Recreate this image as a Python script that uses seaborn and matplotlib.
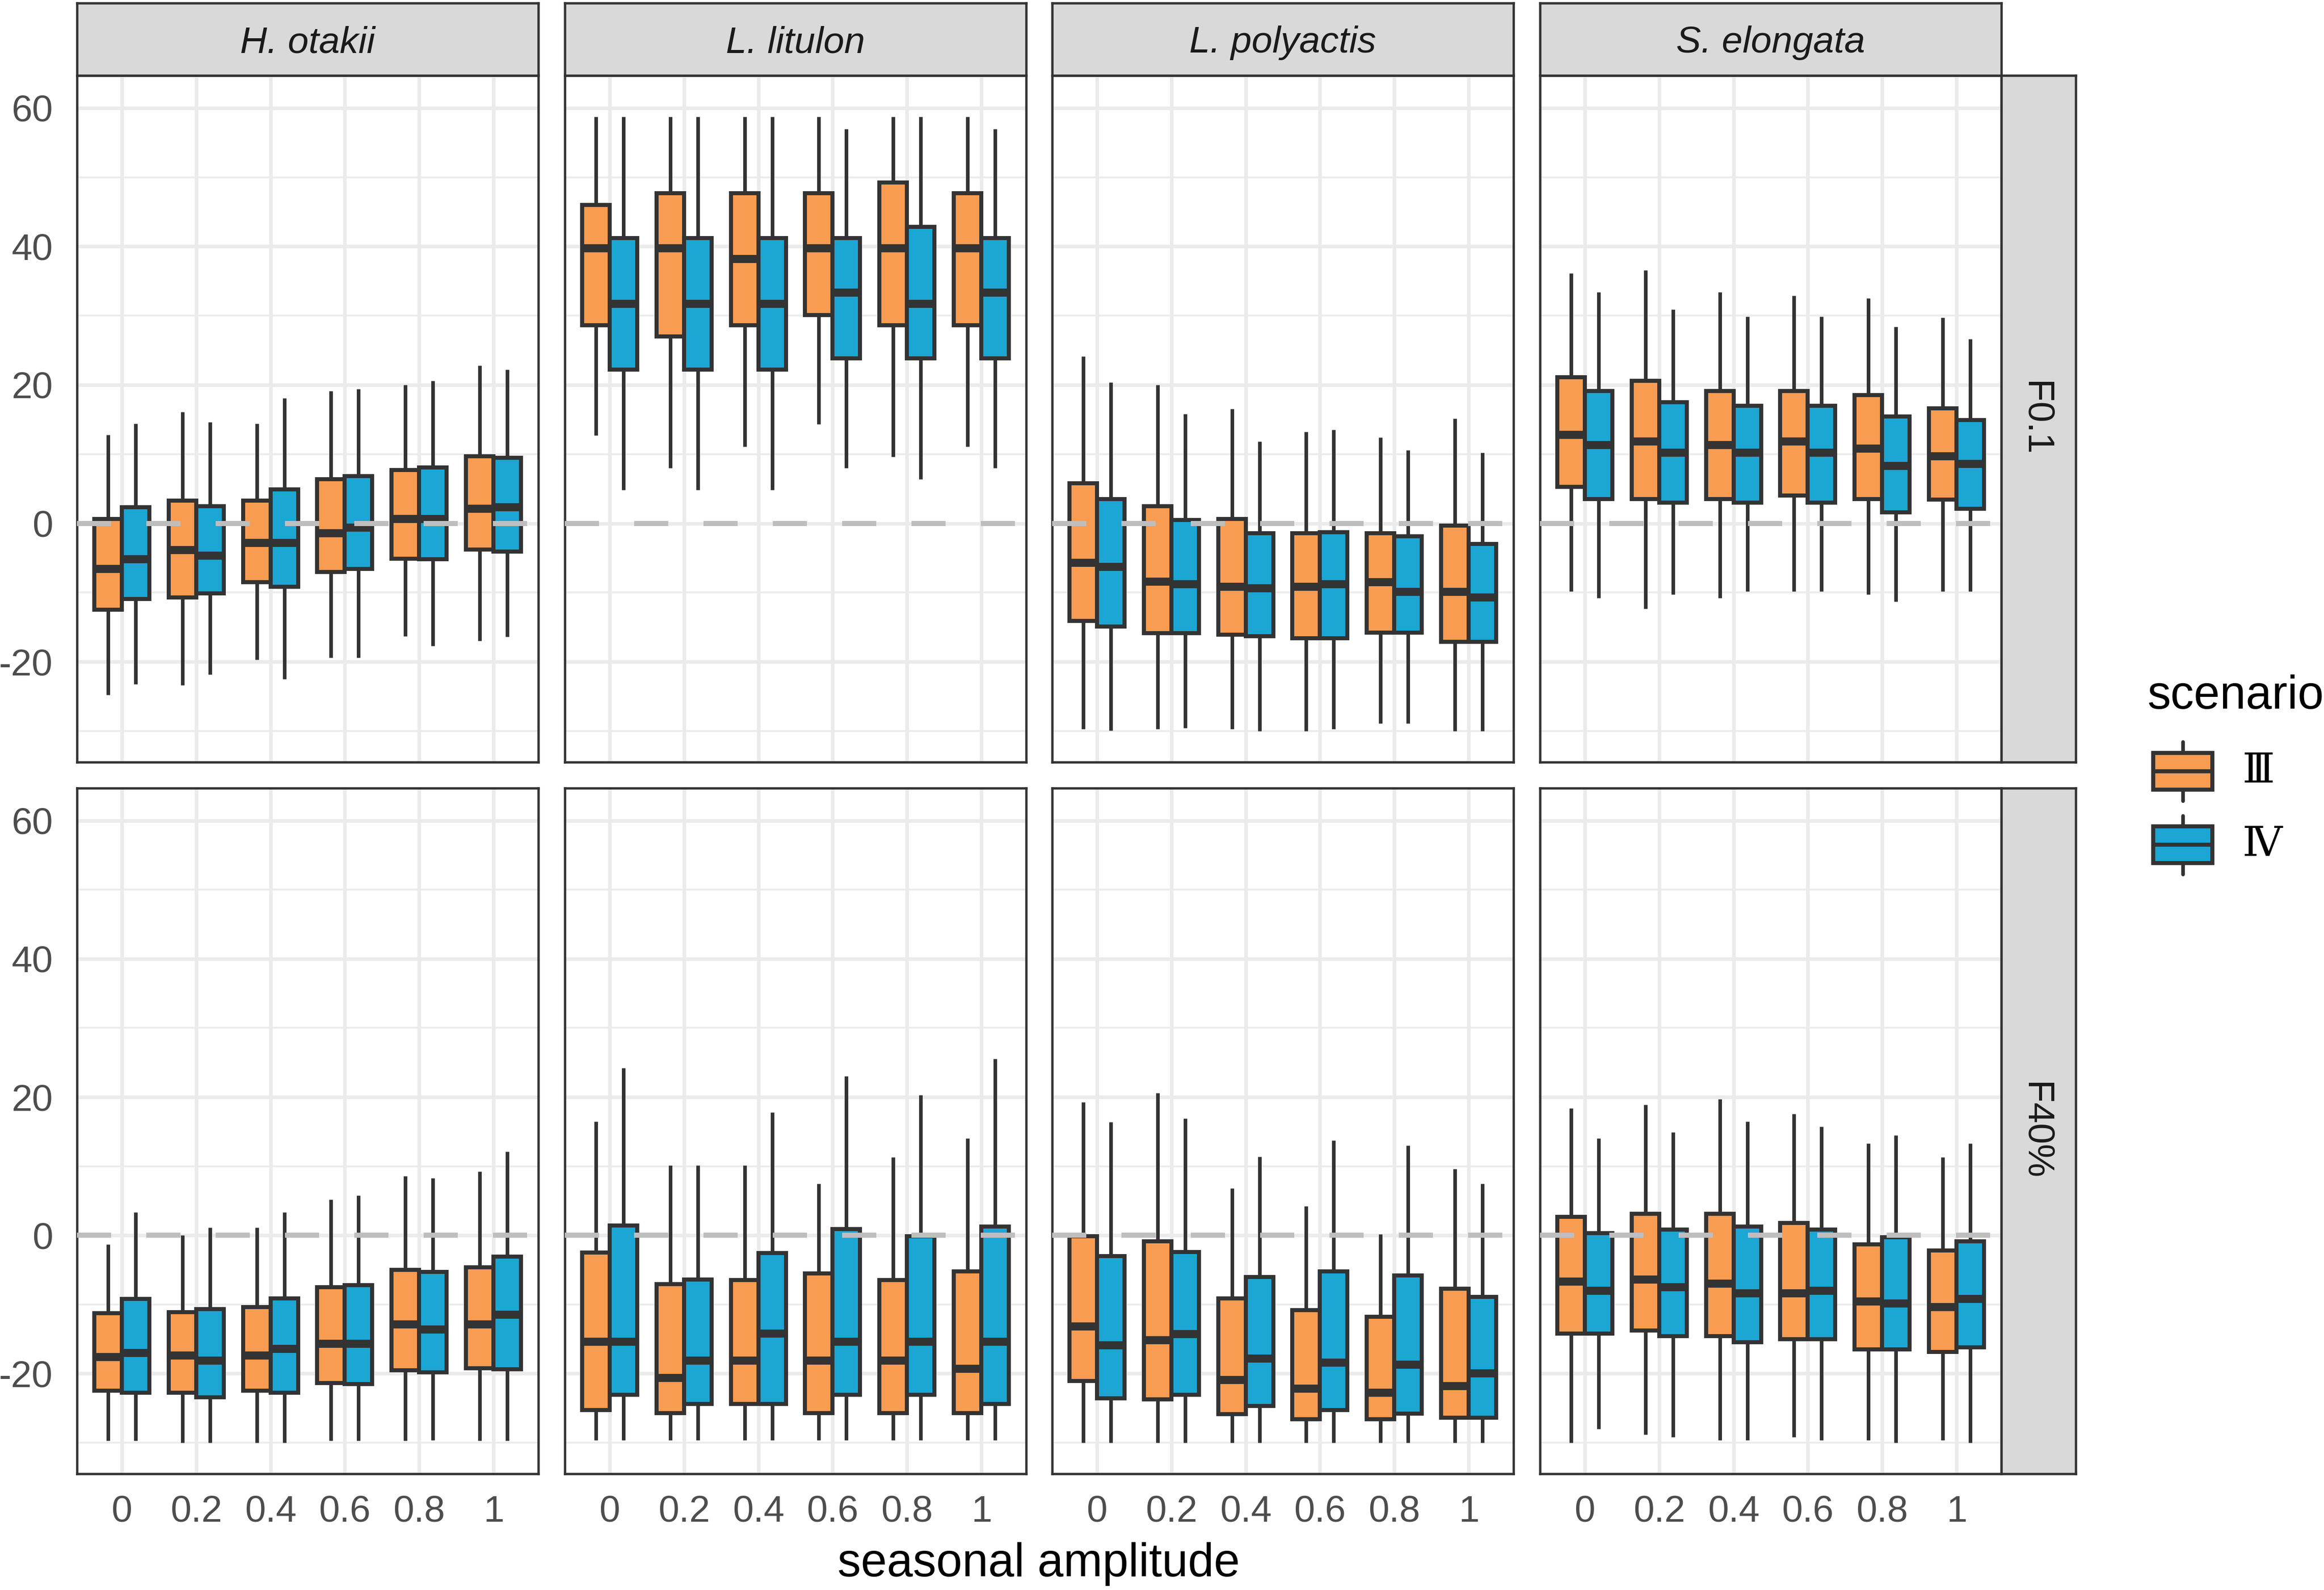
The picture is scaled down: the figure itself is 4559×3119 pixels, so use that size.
import numpy as np
import pandas as pd
import matplotlib
matplotlib.use("Agg")
import matplotlib.pyplot as plt
from matplotlib.patches import Rectangle, Patch
from matplotlib.lines import Line2D
from matplotlib.legend_handler import HandlerBase
from matplotlib.font_manager import FontProperties
import seaborn as sns

# ---------------- data ----------------
species = ["H. otakii", "L. litulon", "L. polyactis", "S. elongata"]
f_levels = ["F0.1", "F40%"]
amplitudes = ["0", "0.2", "0.4", "0.6", "0.8", "1"]
scenarios = ["Ⅲ", "Ⅳ"]
scenario_colors = ["#F89C52", "#1CA6D3"]

# each tuple: (lower whisker, Q1, median, Q3, upper whisker), one per amplitude
ho_f01_iii = [(-24.8, -12.5, -6.6, 0.6, 12.8), (-23.4, -10.7, -3.9, 3.3, 16.1), (-19.7, -8.5, -2.8, 3.3, 14.4),
              (-19.4, -7.0, -1.4, 6.4, 19.1), (-16.3, -5.1, 0.6, 7.7, 20.0), (-17.0, -3.8, 2.1, 9.7, 22.8)]
ho_f01_iv = [(-23.2, -10.9, -5.2, 2.3, 14.4), (-21.8, -10.1, -4.7, 2.5, 14.6), (-22.5, -9.2, -2.8, 4.9, 18.1),
             (-19.4, -6.6, -0.6, 6.8, 19.4), (-17.7, -5.2, 0.6, 8.1, 20.6), (-16.4, -4.1, 2.3, 9.5, 22.2)]
ll_f01_iii = [(12.7, 28.6, 39.7, 46.0, 58.7), (8.0, 27.0, 39.7, 47.7, 58.7), (11.1, 28.6, 38.2, 47.7, 58.7),
              (14.3, 30.1, 39.7, 47.7, 58.7), (9.6, 28.6, 39.7, 49.2, 58.7), (11.1, 28.6, 39.7, 47.7, 58.7)]
ll_f01_iv = [(4.8, 22.2, 31.7, 41.2, 58.7), (4.8, 22.2, 31.7, 41.2, 58.7), (4.8, 22.2, 31.7, 41.2, 58.7),
             (8.0, 23.8, 33.3, 41.2, 57.0), (6.4, 23.8, 31.7, 42.8, 58.7), (8.0, 23.8, 33.3, 41.2, 57.0)]
lp_f01_iii = [(-29.7, -14.1, -5.7, 5.8, 24.1), (-29.7, -15.9, -8.4, 2.5, 20.0), (-29.7, -16.1, -9.2, 0.6, 16.5),
              (-30.0, -16.6, -9.2, -1.4, 13.2), (-28.9, -15.8, -8.5, -1.4, 12.4), (-30.0, -17.1, -9.9, -0.3, 15.1)]
lp_f01_iv = [(-29.9, -14.9, -6.3, 3.5, 20.4), (-29.6, -15.9, -8.8, 0.5, 15.8), (-30.0, -16.3, -9.4, -1.4, 11.8),
             (-29.7, -16.6, -8.8, -1.3, 13.5), (-28.9, -15.8, -9.9, -1.9, 10.6), (-30.0, -17.1, -10.7, -3.0, 10.2)]
se_f01_iii = [(-9.8, 5.3, 12.8, 21.1, 36.1), (-12.3, 3.5, 11.8, 20.6, 36.6), (-10.8, 3.5, 11.3, 19.1, 33.4),
              (-9.8, 4.0, 11.8, 19.1, 32.9), (-10.3, 3.5, 10.8, 18.5, 32.5), (-9.8, 3.4, 9.7, 16.6, 29.7)]
se_f01_iv = [(-10.8, 3.5, 11.3, 19.1, 33.4), (-10.3, 3.0, 10.2, 17.5, 30.9), (-9.8, 3.0, 10.2, 17.0, 29.9),
             (-9.8, 3.0, 10.2, 17.0, 29.9), (-11.3, 1.6, 8.3, 15.4, 28.4), (-9.8, 2.1, 8.6, 14.9, 26.6)]

ho_f40_iii = [(-29.7, -22.5, -17.6, -11.3, -1.3), (-30.0, -22.8, -17.4, -11.1, 0.0), (-30.0, -22.5, -17.4, -10.4, 1.1),
              (-29.7, -21.4, -15.7, -7.5, 5.2), (-29.7, -19.5, -12.9, -5.0, 8.6), (-29.7, -19.2, -12.9, -4.6, 9.2)]
ho_f40_iv = [(-29.7, -22.8, -17.0, -9.2, 3.3), (-30.0, -23.4, -18.1, -10.7, 1.1), (-30.0, -22.8, -16.4, -9.1, 3.3),
             (-29.7, -21.5, -15.7, -7.2, 5.8), (-29.6, -19.8, -13.6, -5.3, 8.3), (-29.7, -19.4, -11.5, -3.1, 12.1)]
ll_f40_iii = [(-29.6, -25.3, -15.4, -2.5, 16.5), (-29.6, -25.7, -20.6, -7.1, 10.1), (-29.6, -24.4, -18.1, -6.5, 10.1),
              (-29.6, -25.7, -18.1, -5.5, 7.5), (-29.6, -25.7, -18.1, -6.5, 11.3), (-29.6, -25.7, -19.3, -5.2, 14.0)]
ll_f40_iv = [(-29.6, -23.1, -15.4, 1.4, 24.2), (-29.6, -24.4, -18.1, -6.4, 10.1), (-29.6, -24.4, -14.2, -2.6, 17.8),
             (-29.6, -23.1, -15.4, 0.9, 23.0), (-29.6, -23.1, -15.4, -0.1, 20.3), (-29.6, -24.4, -15.4, 1.3, 25.5)]
lp_f40_iii = [(-30.0, -21.1, -13.2, -0.1, 19.3), (-30.0, -23.7, -15.2, -0.9, 20.6), (-30.0, -25.9, -20.9, -9.1, 6.8),
              (-30.0, -26.6, -22.2, -10.8, 4.2), (-30.0, -26.6, -22.8, -11.8, 0.2), (-30.0, -26.4, -21.8, -7.7, 9.6)]
lp_f40_iv = [(-30.0, -23.6, -15.9, -3.0, 16.4), (-30.0, -23.1, -14.3, -2.4, 16.9), (-30.0, -24.7, -17.8, -6.0, 11.4),
             (-30.0, -25.3, -18.4, -5.2, 13.7), (-30.0, -25.8, -18.7, -5.8, 13.0), (-30.0, -26.4, -20.0, -8.9, 7.5)]
se_f40_iii = [(-30.0, -14.2, -6.7, 2.7, 18.4), (-28.8, -13.8, -6.4, 3.1, 18.9), (-29.6, -14.6, -7.0, 3.1, 19.7),
              (-29.2, -15.0, -8.4, 1.8, 17.6), (-29.6, -16.5, -9.6, -1.3, 13.3), (-29.6, -16.9, -10.4, -2.2, 11.3)]
se_f40_iv = [(-28.0, -14.2, -8.0, 0.3, 14.0), (-29.2, -14.6, -7.5, 0.8, 14.9), (-29.6, -15.5, -8.4, 1.3, 16.5),
             (-29.6, -15.0, -8.0, 0.8, 15.7), (-30.0, -16.5, -9.9, -0.3, 14.5), (-30.0, -16.2, -9.2, -0.9, 13.3)]

y_major = [-20, 0, 20, 40, 60]
y_minor = [-30, -10, 10, 30, 50]
x_title = "seasonal amplitude"
legend_title = "scenario"

panel_series = {
    ("F0.1", "H. otakii"): (ho_f01_iii, ho_f01_iv),
    ("F0.1", "L. litulon"): (ll_f01_iii, ll_f01_iv),
    ("F0.1", "L. polyactis"): (lp_f01_iii, lp_f01_iv),
    ("F0.1", "S. elongata"): (se_f01_iii, se_f01_iv),
    ("F40%", "H. otakii"): (ho_f40_iii, ho_f40_iv),
    ("F40%", "L. litulon"): (ll_f40_iii, ll_f40_iv),
    ("F40%", "L. polyactis"): (lp_f40_iii, lp_f40_iv),
    ("F40%", "S. elongata"): (se_f40_iii, se_f40_iv),
}

rows = []
for (f, sp), series in panel_series.items():
    for sc, summ in zip(scenarios, series):
        for amp, five in zip(amplitudes, summ):
            for v in five:
                rows.append({"F": f, "species": sp, "amp": amp, "scenario": sc, "value": v})
df = pd.DataFrame(rows)

# ---------------- style ----------------
sns.set_style("white")
plt.rcParams["font.family"] = ["Liberation Sans", "DejaVu Sans"]
plt.rcParams["axes.unicode_minus"] = False

W, H = 4559, 3119
DPI = 300
fig = plt.figure(figsize=(W / DPI, H / DPI), dpi=DPI)
fig.patch.set_facecolor("white")


def rect(l, t, w, h):
    return [l / W, 1 - (t + h) / H, w / W, h / H]


col_left = [151, 1108, 2064, 3021]
col_w = 905
row_top = [148, 1546]
row_h = [1347, 1345]
DARK = "#333333"
GRID = "#EBEBEB"
STRIP = "#D9D9D9"
TICK_SIZE = 17.6
palette = dict(zip(scenarios, scenario_colors))

for r, f in enumerate(f_levels):
    for c, sp in enumerate(species):
        ax = fig.add_axes(rect(col_left[c], row_top[r], col_w, row_h[r]))
        sub = df[(df["F"] == f) & (df["species"] == sp)]
        sns.boxplot(data=sub, x="amp", y="value", hue="scenario", order=amplitudes,
                    hue_order=scenarios, palette=palette, saturation=1, width=0.74, gap=0,
                    whis=(0, 100), linecolor=DARK, linewidth=1.9, showcaps=False,
                    showfliers=False, legend=False,
                    medianprops={"linewidth": 3.8},
                    whiskerprops={"linewidth": 1.7},
                    ax=ax)
        ax.axhline(0, color="#BEBEBE", lw=2.4, ls=(0, (6.7, 6.9)), zorder=10,
                   dash_capstyle="butt")
        ax.set_xlim(-0.6, len(amplitudes) - 0.4)
        ax.set_ylim(-34.5, 64.7)
        ax.set_yticks(y_major)
        ax.set_yticks(y_minor, minor=True)
        ax.set_yticklabels([str(v) for v in y_major])
        ax.set_axisbelow(True)
        ax.grid(axis="y", which="major", color=GRID, lw=1.7)
        ax.grid(axis="y", which="minor", color=GRID, lw=0.85)
        ax.grid(axis="x", which="major", color=GRID, lw=1.7)
        ax.set_xlabel("")
        ax.set_ylabel("")
        for s in ax.spines.values():
            s.set_color(DARK)
            s.set_linewidth(1.1)
        ax.tick_params(axis="y", which="minor", length=0)
        ax.tick_params(axis="y", which="major", length=5.8 if c == 0 else 0, width=1.6,
                       color=DARK, labelleft=(c == 0), labelsize=TICK_SIZE,
                       labelcolor="#4D4D4D", pad=5.5)
        ax.tick_params(axis="x", which="major", length=5.5 if r == 1 else 0, width=1.6,
                       color=DARK, labelbottom=(r == 1), labelsize=TICK_SIZE,
                       labelcolor="#4D4D4D", pad=4.5)

# top strips
for c, sp in enumerate(species):
    sax = fig.add_axes(rect(col_left[c], 6, col_w, 142))
    sax.set_facecolor(STRIP)
    sax.set_xticks([])
    sax.set_yticks([])
    for s in sax.spines.values():
        s.set_color(DARK)
        s.set_linewidth(1.1)
    sax.text(0.5, 0.45, sp, ha="center", va="center", style="italic", size=TICK_SIZE,
             color="#1A1A1A", transform=sax.transAxes)

# right strips
for r, f in enumerate(f_levels):
    sax = fig.add_axes(rect(3926, row_top[r], 146, row_h[r]))
    sax.set_facecolor(STRIP)
    sax.set_xticks([])
    sax.set_yticks([])
    for s in sax.spines.values():
        s.set_color(DARK)
        s.set_linewidth(1.1)
    sax.text(0.45, 0.5, f, ha="center", va="center", rotation=-90, size=TICK_SIZE,
             color="#1A1A1A", transform=sax.transAxes)

# axis title
fig.text(2038 / W, 1 - 3068 / H, x_title, ha="center", va="center", size=22, color="black")

# legend
fig.text(4212 / W, 1 - 1390 / H, legend_title, ha="left", va="baseline", size=22, color="black")


class BoxKeyHandler(HandlerBase):
    def create_artists(self, legend, orig_handle, xdescent, ydescent, width, height,
                       fontsize, trans):
        x0, y0 = -xdescent, -ydescent
        fc = orig_handle.get_facecolor()
        box = Rectangle((x0 + 0.1 * width, y0 + 0.25 * height), 0.8 * width, 0.5 * height,
                        facecolor=fc, edgecolor=DARK, lw=1.9, transform=trans)
        med = Line2D([x0 + 0.1 * width, x0 + 0.9 * width], [y0 + 0.5 * height] * 2,
                     color=DARK, lw=1.9, transform=trans, solid_capstyle="butt")
        wl = Line2D([x0 + 0.5 * width] * 2, [y0 + 0.1 * height, y0 + 0.25 * height],
                    color=DARK, lw=1.7, transform=trans)
        wu = Line2D([x0 + 0.5 * width] * 2, [y0 + 0.75 * height, y0 + 0.9 * height],
                    color=DARK, lw=1.7, transform=trans)
        return [box, med, wl, wu]


handles = [Patch(facecolor=col) for col in scenario_colors]
leg_font = FontProperties(family=["Liberation Serif", "DejaVu Serif", "Noto Sans CJK SC"],
                          size=TICK_SIZE)
leg = fig.legend(handles, scenarios, handler_map={Patch: BoxKeyHandler()},
                 loc="upper left", bbox_to_anchor=(4210 / W, 1 - 1441 / H),
                 bbox_transform=fig.transFigure, frameon=False, borderpad=0,
                 borderaxespad=0, handlelength=1.966, handleheight=2.648,
                 labelspacing=0, handletextpad=0.6, prop=leg_font)
for t in leg.get_texts():
    t.set_color("black")
    t.set_fontsize(19.5)

fig.savefig("out.png", dpi=DPI, facecolor="white")
